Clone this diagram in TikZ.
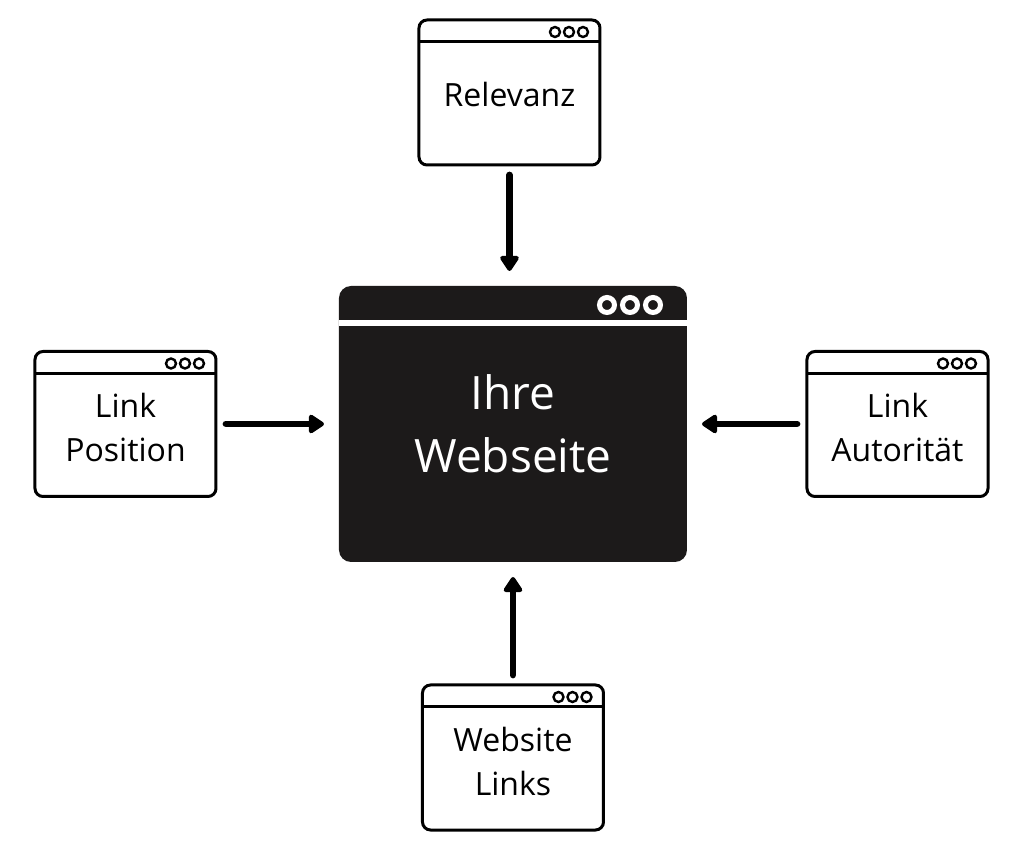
\documentclass[tikz,border=0pt]{standalone}
\usepackage{fontspec}
\setmainfont{Open Sans}
\usetikzlibrary{positioning,arrows.meta}
\definecolor{winblack}{HTML}{1C1A1A}

\begin{document}
\begin{tikzpicture}[
	win/.style={rectangle, rounded corners=4pt, draw=black, line width=1.5pt, minimum width=90.5pt, minimum height=72.5pt, outer sep=0pt, align=center, text height=14.5pt, font=\fontsize{16}{22}\selectfont},
	twowin/.style={win, text height=38pt},
	mainwin/.style={rectangle, rounded corners=6pt, fill=winblack, text=white, minimum width=174pt, minimum height=138pt, outer sep=0pt, align=center, font=\fontsize{23}{31.5}\selectfont},
	link/.style={-{Triangle[round, length=8.5pt, width=10.5pt]}, line width=3.4pt, line cap=round, shorten <=5pt, shorten >=7.5pt},
	node distance=61pt
	]

	\useasboundingbox (-256.5pt,-213.5pt) rectangle (255.5pt,212pt);

	\node (web) [mainwin] {Ihre\\Webseite};

		\node (rel) [win, above=60.5pt of web, xshift=-1.75pt] {Relevanz};
		\node (pos) [twowin, left=61.5pt of web] {Link\\Position};
		\node (aut) [twowin, right=60pt of web] {Link\\Autorität};
		\node (links) [twowin, below=61.5pt of web] {Website\\Links};

	% title bars
	\foreach \w in {rel,pos,aut,links}{
		\draw [line width=1.5pt] ([yshift=-11pt]\w.north west) -- ([yshift=-11pt]\w.north east);
		\foreach \dx in {8.5,15.5,22.5}
			\draw [line width=1.2pt] ([xshift=-\dx pt, yshift=-6pt]\w.north east) circle (2.5pt);
	}
	\draw [white, line width=3pt] ([yshift=-18.5pt]web.north west) -- ([yshift=-18.5pt]web.north east);
	\foreach \dx in {17,28.5,40}
		\draw [white, line width=2.5pt] ([xshift=-\dx pt, yshift=-9.5pt]web.north east) circle (3.75pt);

	\draw [link] (rel.south) -- (rel.south |- web.north);
	\draw [link] (pos.east) -- (web.west);
	\draw [link] (aut.west) -- (web.east);
	\draw [link] (links.north) -- (links.north |- web.south);

\end{tikzpicture}
\end{document}
